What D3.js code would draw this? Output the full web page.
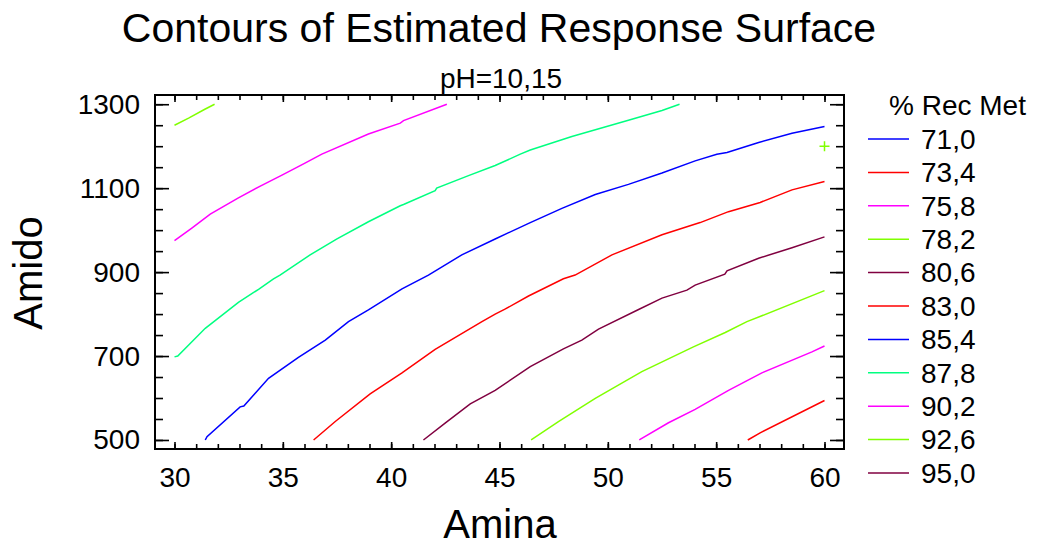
<!DOCTYPE html>
<html>
<head>
<meta charset="utf-8">
<script src="https://cdn.jsdelivr.net/npm/d3@7"></script>
<style>
    body { margin: 0; background: #fff; }
    svg text { font-family: "Liberation Sans", Arial, sans-serif; fill: #000; }
    .axis path { display: none; }
    .axis line { stroke: #000; stroke-width: 1.6; }
</style>
</head>
<body>
<div id="chart"></div>
<script>
// Contour levels (% Rec Met) and their line colours
const levels = [71.0, 73.4, 75.8, 78.2, 80.6, 83.0, 85.4, 87.8, 90.2, 92.6, 95.0];
const level_colors = ['#0000ff', '#ff0000', '#ff00ff', '#80ff00', '#800040',
                      '#ff0000', '#0000ff', '#00ff80', '#ff00ff', '#80ff00', '#800040'];

// Contour paths: [Amina, Amido]
const line_92_6 = [[30, 1250], [30.65, 1267], [31.4, 1288], [31.85, 1300]];
const line_90_2 = [[30, 975], [30.8, 1005], [31.65, 1038], [32.95, 1077], [33.96, 1105], [34.96, 1131],
                   [36.0, 1159], [36.8, 1181], [38.95, 1229], [40.42, 1255], [40.57, 1261], [42.57, 1300]];
const line_87_8 = [[30, 698], [30.15, 700], [31.42, 766], [32.95, 828], [33.88, 859], [34.57, 884],
                   [34.87, 893], [36.26, 941], [37.5, 979], [38.95, 1020], [40.42, 1058], [40.57, 1061],
                   [42.03, 1094], [42.1, 1100], [43.57, 1130], [44.8, 1154], [45.96, 1181], [46.42, 1191],
                   [48.34, 1223], [50.95, 1262], [52.5, 1285], [53.31, 1300]];
const line_85_4 = [[31.42, 500], [31.5, 508], [33.03, 579], [33.2, 581], [34.34, 647], [35.72, 697],
                   [36.96, 738], [38.03, 782], [38.95, 810], [40.5, 860], [41.72, 893], [43.26, 941],
                   [44.8, 979], [46.42, 1018], [47.88, 1052], [49.42, 1085], [50.95, 1109], [52.5, 1136],
                   [54.03, 1165], [55.03, 1181], [55.5, 1185], [56.96, 1209], [58.5, 1231], [60, 1247]];
const line_83_0 = [[36.42, 500], [37.42, 544], [39.03, 610], [40.5, 660], [42.03, 716], [44.19, 782],
                   [44.8, 800], [45.23, 811], [46.34, 843], [47.95, 884], [48.49, 893], [50.19, 941],
                   [52.5, 989], [54.26, 1018], [55.57, 1044], [57.03, 1066], [58.5, 1096], [60, 1116]];
const line_80_6 = [[41.49, 500], [42.49, 540], [43.65, 586], [44.8, 618], [46.42, 675], [47.95, 717],
                   [48.8, 738], [49.57, 764], [51.42, 811], [52.5, 838], [53.65, 857], [54.03, 869],
                   [55.4, 895], [55.5, 903], [56.96, 933], [58.5, 958], [60, 984]];
const line_78_2 = [[46.46, 500], [47.72, 544], [49.42, 599], [51.57, 663], [53.95, 722], [55.42, 756],
                   [56.42, 782], [57.11, 796], [60, 856]];
const line_75_8 = [[51.45, 500], [52.8, 541], [54.03, 573], [55.57, 618], [57.11, 660], [59.42, 710], [60, 724]];
const line_73_4 = [[56.46, 500], [57.03, 517], [60, 594]];

const contours = [
    { level: 73.4, points: line_73_4 },
    { level: 75.8, points: line_75_8 },
    { level: 78.2, points: line_78_2 },
    { level: 80.6, points: line_80_6 },
    { level: 83.0, points: line_83_0 },
    { level: 85.4, points: line_85_4 },
    { level: 87.8, points: line_87_8 },
    { level: 90.2, points: line_90_2 },
    { level: 92.6, points: line_92_6 },
];

const plus_point = [60, 1200];

const x_ticks = [30, 35, 40, 45, 50, 55, 60];
const y_ticks = [500, 700, 900, 1100, 1300];
const x_minor_ticks = d3.range(30, 61, 1);
const y_minor_ticks = d3.range(500, 1301, 50);

const chart_width = 1043;
const chart_height = 547;
const frame = { left: 155, right: 844, top: 95, bottom: 449 };

const fmt = v => d3.format('.1f')(v).replace('.', ',');
const color_of = lv => level_colors[levels.indexOf(lv)];

const svg = d3.select('#chart')
    .append('svg')
    .attr('width', chart_width)
    .attr('height', chart_height);

// Scales
const x_scale = d3.scaleLinear()
    .domain([29.1, 60.9])
    .range([frame.left, frame.right]);

const y_scale = d3.scaleLinear()
    .domain([478.5, 1322])
    .range([frame.bottom, frame.top]);

// Axes (ticks pointing inwards)
function add_axis(axis, tx, ty) {
    const g = svg.append('g')
        .classed('axis', true)
        .attr('transform', `translate(${tx}, ${ty})`)
        .call(axis);
    g.attr('font-size', 28).attr('font-family', null);
    return g;
}

add_axis(d3.axisBottom(x_scale).tickValues(x_minor_ticks).tickSize(-5).tickFormat(''), 0, frame.bottom);
add_axis(d3.axisBottom(x_scale).tickValues(x_ticks).tickSize(-7).tickPadding(18).tickFormat(d3.format('d')), 0, frame.bottom);
add_axis(d3.axisTop(x_scale).tickValues(x_minor_ticks).tickSize(-5).tickFormat(''), 0, frame.top);
add_axis(d3.axisTop(x_scale).tickValues(x_ticks).tickSize(-7).tickFormat(''), 0, frame.top);

add_axis(d3.axisLeft(y_scale).tickValues(y_minor_ticks).tickSize(-8).tickFormat(''), frame.left, 0);
add_axis(d3.axisLeft(y_scale).tickValues(y_ticks).tickSize(-14).tickPadding(15).tickFormat(d3.format('d')), frame.left, 0);
add_axis(d3.axisRight(y_scale).tickValues(y_minor_ticks).tickSize(-8).tickFormat(''), frame.right, 0);
add_axis(d3.axisRight(y_scale).tickValues(y_ticks).tickSize(-14).tickFormat(''), frame.right, 0);

// Frame
svg.append('rect')
    .attr('x', frame.left)
    .attr('y', frame.top)
    .attr('width', frame.right - frame.left)
    .attr('height', frame.bottom - frame.top)
    .attr('fill', 'none')
    .attr('stroke', '#000')
    .attr('stroke-width', 2);

// Contour lines
const line = d3.line()
    .x(d => x_scale(d[0]))
    .y(d => y_scale(d[1]));

svg.append('g')
    .selectAll('path')
    .data(contours)
    .enter()
    .append('path')
    .attr('d', d => line(d.points))
    .attr('fill', 'none')
    .attr('stroke', d => color_of(d.level))
    .attr('stroke-width', 1.5);

// Plus marker
const px = x_scale(plus_point[0]);
const py = y_scale(plus_point[1]);
svg.append('path')
    .attr('d', `M${px - 5},${py}H${px + 5}M${px},${py - 5}V${py + 5}`)
    .attr('stroke', '#80ff00')
    .attr('stroke-width', 1.5);

// Titles
svg.append('text')
    .attr('x', 499)
    .attr('y', 42)
    .attr('text-anchor', 'middle')
    .attr('font-size', 41)
    .text('Contours of Estimated Response Surface');

svg.append('text')
    .attr('x', 501)
    .attr('y', 88)
    .attr('text-anchor', 'middle')
    .attr('font-size', 28)
    .text('pH=10,15');

svg.append('text')
    .attr('x', 500)
    .attr('y', 538)
    .attr('text-anchor', 'middle')
    .attr('font-size', 40)
    .text('Amina');

svg.append('text')
    .attr('transform', 'translate(42, 273) rotate(-90)')
    .attr('text-anchor', 'middle')
    .attr('font-size', 40)
    .text('Amido');

// Legend
const legend_y = d3.scaleLinear()
    .domain([0, levels.length - 1])
    .range([139, 473]);

svg.append('text')
    .attr('x', 889)
    .attr('y', 115)
    .attr('font-size', 28)
    .text('% Rec Met');

const legend = svg.append('g')
    .selectAll('g')
    .data(levels)
    .enter()
    .append('g')
    .attr('transform', (d, i) => `translate(0, ${legend_y(i)})`);

legend.append('line')
    .attr('x1', 868)
    .attr('x2', 909)
    .attr('stroke', (d, i) => level_colors[i])
    .attr('stroke-width', 1.5);

legend.append('text')
    .attr('x', 921)
    .attr('dy', '0.35em')
    .attr('font-size', 28)
    .text(d => fmt(d));
</script>
</body>
</html>
